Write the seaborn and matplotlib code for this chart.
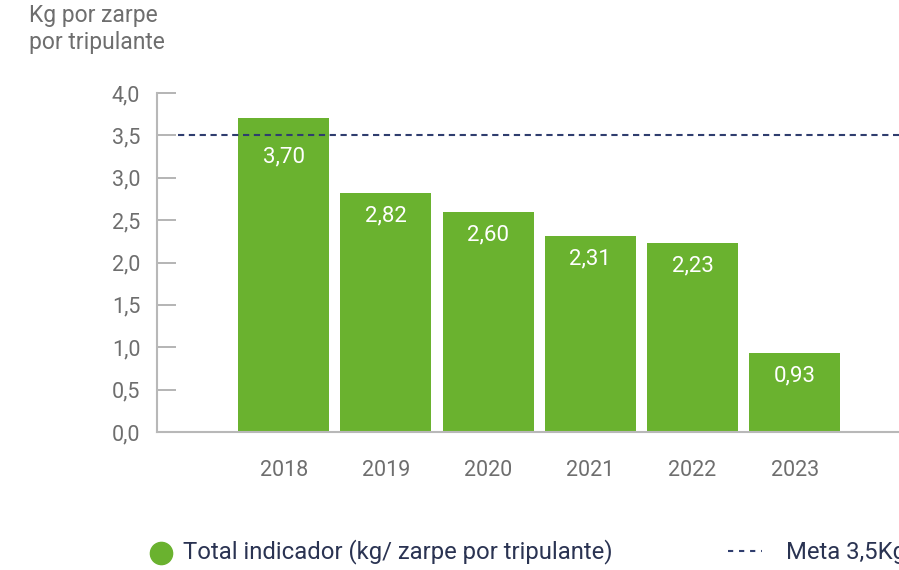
import matplotlib
matplotlib.use("Agg")
import matplotlib.pyplot as plt
import seaborn as sns
import pandas as pd
from matplotlib.lines import Line2D

years = ["2018", "2019", "2020", "2021", "2022", "2023"]
values = [3.70, 2.82, 2.60, 2.31, 2.23, 0.93]
meta = 3.5
yticks = [0.0, 0.5, 1.0, 1.5, 2.0, 2.5, 3.0, 3.5, 4.0]
ytick_labels = ["0,0", "0,5", "1,0", "1,5", "2,0", "2,5", "3,0", "3,5", "4,0"]
series_label = "Total indicador (kg/ zarpe por tripulante)"
meta_label = "Meta 3,5Kg"
y_title = "Kg por zarpe\npor tripulante"

sns.set_theme(style="white")
plt.rcParams["font.family"] = ["Roboto", "DejaVu Sans"]

GREEN = "#6ab22f"
NAVY = "#2f3d6e"
TEXTNAVY = "#2a3352"
GRAY = "#6e6e6e"
SPINE = "#b8b8b8"

W, H = 899, 570
fig = plt.figure(figsize=(W / 100, H / 100), dpi=100)
ax = fig.add_axes([157 / W, 1 - 432 / H, (W - 157) / W, (432 - 93) / H])

df = pd.DataFrame({"year": years, "value": values})
sns.barplot(data=df, x="year", y="value", color=GREEN, saturation=1,
            width=0.89, ax=ax, edgecolor="none", zorder=2)

ax.set_xlim(-1.24, 6.02)
ax.set_ylim(0, 4.0)
ax.set_yticks(yticks)
ax.set_yticklabels(ytick_labels)
ax.set_xlabel("")
ax.set_ylabel("")

ax.axhline(meta, xmin=(178 - 157) / (W - 157), xmax=1, color=NAVY,
           lw=1.5, ls=(0, (3, 2.2)), zorder=3)

for s in ["top", "right"]:
    ax.spines[s].set_visible(False)
for s in ["left", "bottom"]:
    ax.spines[s].set_color(SPINE)
    ax.spines[s].set_linewidth(1.5)

ax.tick_params(axis="y", direction="in", length=14, width=1.2, color="#a8a8a8",
               labelsize=15.5, labelcolor=GRAY, pad=12, left=True)
ax.tick_params(axis="x", length=0, labelsize=15.5, labelcolor=GRAY, pad=20)

for i, v in enumerate(values):
    ypos = v - 0.27
    if abs(ypos - meta) < 0.2:
        ypos = meta - 0.25
    ax.text(i, ypos, f"{v:.2f}".replace(".", ","), ha="center", va="center",
            color="white", fontsize=16, zorder=4)

fig.text(29 / W, 1 - 4 / H, y_title, ha="left", va="top", color=GRAY,
         fontsize=16.5, linespacing=1.2)

# legend
fig.add_artist(Line2D([161 / W], [1 - 553 / H], marker="o", markersize=16,
                      color=GREEN, linestyle="none", transform=fig.transFigure))
fig.text(183 / W, 1 - 552 / H, series_label, ha="left", va="center",
         color=TEXTNAVY, fontsize=17.2)
fig.add_artist(Line2D([728 / W, 762 / W], [1 - 551 / H, 1 - 551 / H],
                      color=NAVY, lw=1.5, ls=(0, (2.5, 2.8)),
                      transform=fig.transFigure))
fig.text(786 / W, 1 - 552 / H, meta_label, ha="left", va="center",
         color=TEXTNAVY, fontsize=17.2)

fig.savefig("out.png", dpi=100)
